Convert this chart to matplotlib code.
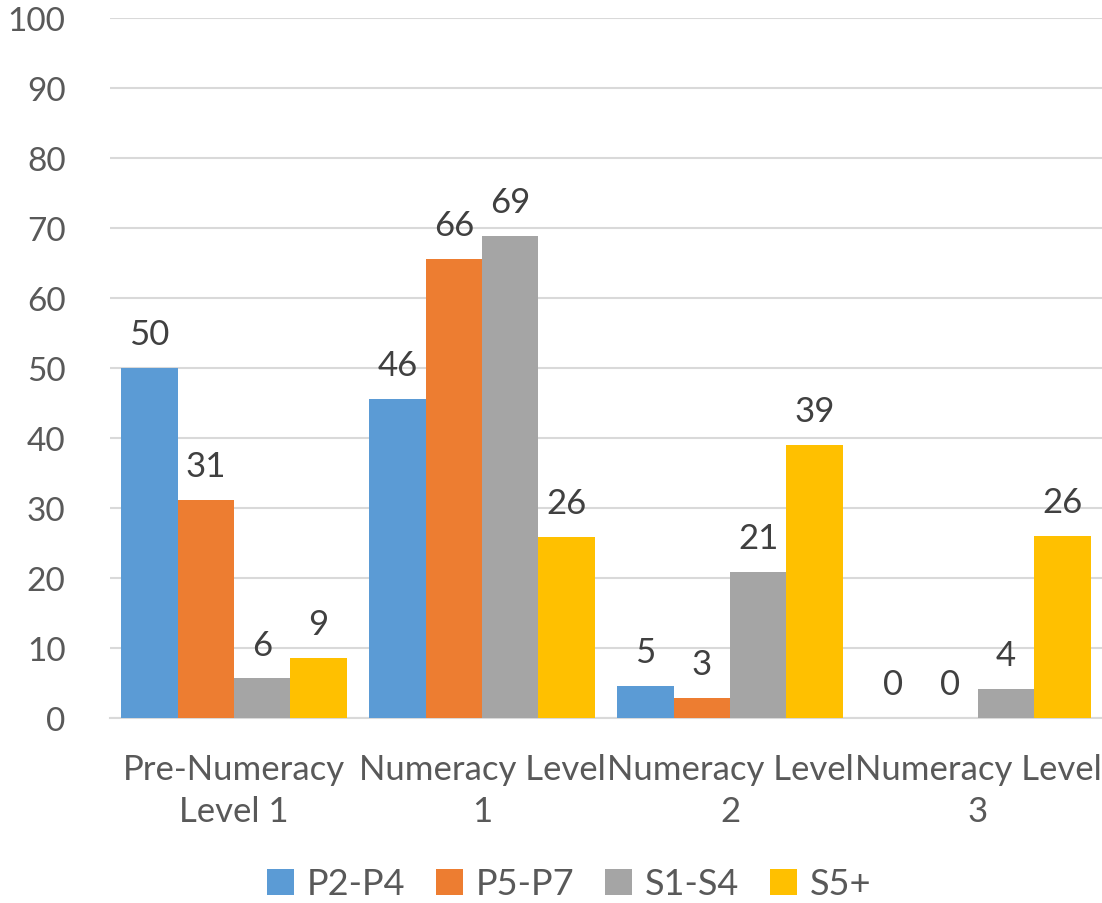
#!/usr/bin/env python3
# Grouped bar chart: share of pupils at each numeracy level, by stage group

import matplotlib
matplotlib.use("Agg")
import matplotlib.pyplot as plt
import numpy as np

categories = ["Pre-Numeracy\nLevel 1", "Numeracy Level\n1", "Numeracy Level\n2", "Numeracy Level\n3"]
series_names = ["P2-P4", "P5-P7", "S1-S4", "S5+"]
p2_p4 = [50.0, 45.6, 4.6, 0.0]
p5_p7 = [31.2, 65.6, 2.9, 0.0]
s1_s4 = [5.7, 68.9, 20.9, 4.2]
s5_plus = [8.6, 25.9, 39.0, 26.0]
y_ticks = list(range(0, 101, 10))

colors = ["#5b9bd5", "#ed7d31", "#a5a5a5", "#ffc000"]
text_color = "#595959"
label_color = "#404040"
grid_color = "#d9d9d9"

plt.rcParams["font.family"] = ["Lato", "DejaVu Sans"]

fig = plt.figure(figsize=(11.02, 9.04), dpi=100)
ax = fig.add_axes([0.0998, 0.2046, 0.9002, 0.7744])

x = np.arange(len(categories))
width = 0.91 / len(series_names)
all_series = [p2_p4, p5_p7, s1_s4, s5_plus]

for i, (name, vals) in enumerate(zip(series_names, all_series)):
    offs = (i - (len(series_names) - 1) / 2) * width
    bars = ax.bar(x + offs, vals, width=width, color=colors[i], label=name, zorder=3)
    for rect, v in zip(bars, vals):
        ax.annotate(f"{v:.0f}", (rect.get_x() + rect.get_width() / 2, rect.get_height()),
                    xytext=(0, 17), textcoords="offset points",
                    ha="center", va="baseline", fontsize=25, color=label_color)

ax.set_xlim(-0.5, len(categories) - 0.5)
ax.set_ylim(0, 100)
ax.set_yticks(y_ticks)
ax.set_xticks(x)
ax.set_xticklabels(categories, fontsize=25, color=text_color, linespacing=1.38)
ax.tick_params(axis="y", labelsize=24, labelcolor=text_color, length=0, pad=32)
ax.tick_params(axis="x", length=0, pad=25)

ax.yaxis.grid(True, color=grid_color, linewidth=1.5, zorder=0)
ax.set_axisbelow(True)
for side in ["top", "right", "left"]:
    ax.spines[side].set_visible(False)
ax.spines["bottom"].set_color(grid_color)
ax.spines["bottom"].set_linewidth(1.5)

leg = fig.legend(loc="lower center", bbox_to_anchor=(0.5165, -0.033), ncol=4, frameon=False,
                 fontsize=26, handlelength=0.75, handleheight=0.75, handletextpad=0.35,
                 columnspacing=0.85, labelcolor=text_color)

fig.savefig("out.png", dpi=100)
plt.close(fig)
